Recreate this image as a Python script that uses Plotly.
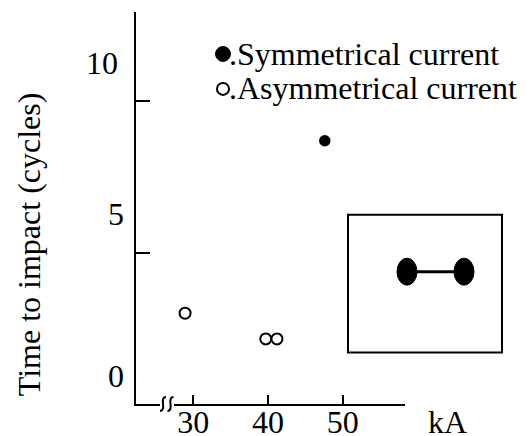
import plotly.graph_objects as go

# ---- data ----
sym_x = [47.6]
sym_y = [8.7]
asym_x = [28.9, 39.7, 41.2]
asym_y = [3.0, 2.15, 2.15]
x_ticks = [30, 40, 50]
x_ticklabels = ["30", "40", "50"]
y_ticks = [5, 10]
y_labels = ["0", "5", "10"]
legend_labels = [".Symmetrical current", ".Asymmetrical current"]
y_title = "Time to impact (cycles)"
x_unit = "kA"

# ---- layout geometry (pixels) ----
W, H = 528, 436
L, R, T, B = 136, 405, 12, 404.5
FONT = "Liberation Serif"
FS = 32


def px(x):
    return (x - L) / (R - L)


def py(y):
    return (B - y) / (B - T)


fig = go.Figure()
fig.add_trace(go.Scatter(x=sym_x, y=sym_y, mode="markers",
                         marker=dict(size=11.5, color="black"),
                         showlegend=False, cliponaxis=False))
fig.add_trace(go.Scatter(x=asym_x, y=asym_y, mode="markers",
                         marker=dict(size=11, color="white",
                                     line=dict(color="black", width=2)),
                         showlegend=False, cliponaxis=False))

shapes = []
# axis break
shapes.append(dict(type="rect", xref="paper", yref="paper",
                   x0=px(160), x1=px(174), y0=py(410), y1=py(398),
                   fillcolor="white", line=dict(width=0), layer="above"))
for cx in (163, 170.5):
    path = "M {} {} Q {} {} {} {} Q {} {} {} {}".format(
        px(cx - 3), py(411.5), px(cx + 1), py(411.5), px(cx), py(404.5),
        px(cx - 1), py(397.5), px(cx + 3), py(397.5))
    shapes.append(dict(type="path", xref="paper", yref="paper", path=path,
                       line=dict(color="black", width=2), layer="above"))
# inset box
shapes.append(dict(type="rect", xref="paper", yref="paper",
                   x0=px(348), x1=px(502), y0=py(353), y1=py(215),
                   line=dict(color="black", width=2)))
shapes.append(dict(type="line", xref="paper", yref="paper",
                   x0=px(407), x1=px(464), y0=py(272), y1=py(272),
                   line=dict(color="black", width=3)))
for cx in (407, 464):
    shapes.append(dict(type="circle", xref="paper", yref="paper",
                       x0=px(cx - 10), x1=px(cx + 10), y0=py(285.5), y1=py(258.5),
                       fillcolor="black", line=dict(color="black", width=1)))
# legend markers
shapes.append(dict(type="circle", xref="paper", yref="paper",
                   x0=px(215.5), x1=px(230.5), y0=py(61.5), y1=py(46.5),
                   fillcolor="black", line=dict(color="black", width=1)))
shapes.append(dict(type="circle", xref="paper", yref="paper",
                   x0=px(217), x1=px(229), y0=py(95), y1=py(83),
                   fillcolor="white", line=dict(color="black", width=2)))

annotations = []
# y tick labels (offset from tick marks as in the original)
for txt, (cx, cy) in zip(y_labels, [(116, 376), (115.5, 214), (101.5, 63)]):
    annotations.append(dict(text=txt, xref="paper", yref="paper",
                            x=px(cx), y=py(cy), xanchor="center", yanchor="middle",
                            showarrow=False, font=dict(family=FONT, size=FS, color="black")))
# legend texts
for txt, cy in zip(legend_labels, [54, 88]):
    annotations.append(dict(text=txt, xref="paper", yref="paper",
                            x=px(226.5), y=py(cy), xanchor="left", yanchor="middle",
                            showarrow=False, font=dict(family=FONT, size=FS, color="black")))
# y title
annotations.append(dict(text=y_title, xref="paper", yref="paper",
                        x=px(29), y=py(244.5), xanchor="center", yanchor="middle",
                        textangle=-90, showarrow=False,
                        font=dict(family=FONT, size=FS, color="black")))
# x unit
annotations.append(dict(text=x_unit, xref="paper", yref="paper",
                        x=px(447), y=py(423), xanchor="center", yanchor="middle",
                        showarrow=False, font=dict(family=FONT, size=FS, color="black")))

xr0 = 30 - (193.3 - L) / 7.47
xr1 = 30 + (R - 193.3) / 7.47
yr1 = (B - T) / 30.3

fig.update_layout(
    template="none",
    width=W, height=H,
    margin=dict(l=L, r=W - R, t=T, b=H - B, pad=0, autoexpand=False),
    plot_bgcolor="white", paper_bgcolor="white",
    showlegend=False,
    shapes=shapes, annotations=annotations,
    font=dict(family=FONT, size=FS, color="black"),
    xaxis=dict(range=[xr0, xr1], showgrid=False, zeroline=False, automargin=False,
               showline=True, linecolor="black", linewidth=2,
               tickmode="array", tickvals=x_ticks, ticktext=x_ticklabels,
               ticks="inside", ticklen=9, tickwidth=2, tickcolor="black",
               ticklabelstandoff=-11,
               tickfont=dict(family=FONT, size=FS, color="black")),
    yaxis=dict(range=[0, yr1], showgrid=False, zeroline=False, automargin=False,
               showline=True, linecolor="black", linewidth=2,
               tickmode="array", tickvals=y_ticks, showticklabels=False,
               ticks="inside", ticklen=14, tickwidth=2, tickcolor="black"),
)

fig.write_html("out.html")
